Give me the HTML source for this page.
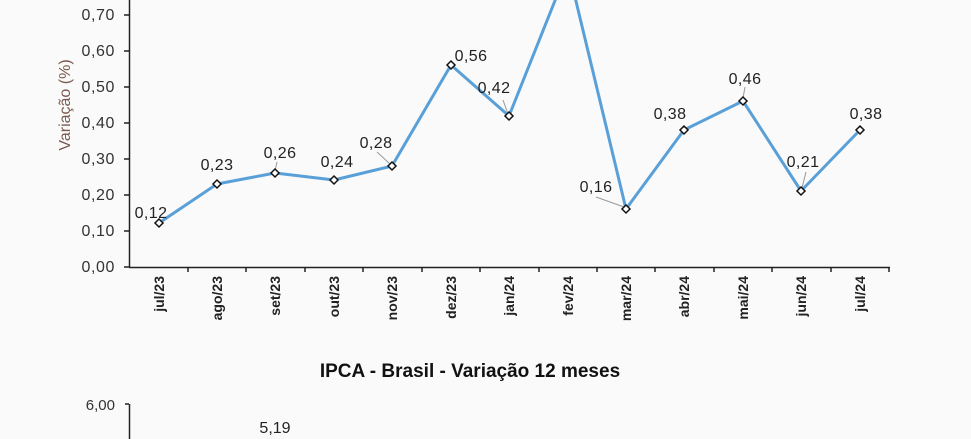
<!DOCTYPE html><html><head><style>body{margin:0;background:#fafafa}svg{display:block}</style></head><body>
<svg width="971" height="439" xmlns="http://www.w3.org/2000/svg" font-family="Liberation Sans, Arial, sans-serif">
<rect width="971" height="439" fill="#fafafa"/>
<g font-size="16" fill="#333" text-anchor="end" letter-spacing="0.6">
<text x="115" y="272">0,00</text><text x="115" y="236">0,10</text><text x="115" y="200">0,20</text><text x="115" y="164">0,30</text><text x="115" y="128">0,40</text><text x="115" y="92">0,50</text><text x="115" y="56">0,60</text><text x="115" y="20">0,70</text>
</g>
<text transform="translate(70,105) rotate(-90)" font-size="16" fill="#7a5a50" text-anchor="middle">Variação (%)</text>
<g stroke="#222" stroke-width="1.5">
<line x1="129.5" y1="0" x2="129.5" y2="267"/><line x1="129" y1="267.5" x2="890" y2="267.5"/>
<line x1="124" y1="267" x2="129" y2="267"/><line x1="124" y1="231" x2="129" y2="231"/><line x1="124" y1="195" x2="129" y2="195"/><line x1="124" y1="159" x2="129" y2="159"/><line x1="124" y1="123" x2="129" y2="123"/><line x1="124" y1="87" x2="129" y2="87"/><line x1="124" y1="51" x2="129" y2="51"/><line x1="124" y1="15" x2="129" y2="15"/>
<path d="M188 267v5M246 267v5M305 267v5M363 267v5M422 267v5M480 267v5M539 267v5M597 267v5M655 267v5M714 267v5M772 267v5M831 267v5M889 267v5" fill="none"/>
</g>
<g font-size="14" font-weight="bold" fill="#222" text-anchor="end">
<text transform="translate(164,276) rotate(-90)">jul/23</text><text transform="translate(222,276) rotate(-90)">ago/23</text><text transform="translate(280,276) rotate(-90)">set/23</text><text transform="translate(339,276) rotate(-90)">out/23</text><text transform="translate(397,276) rotate(-90)">nov/23</text><text transform="translate(456,276) rotate(-90)">dez/23</text><text transform="translate(514,276) rotate(-90)">jan/24</text><text transform="translate(573,276) rotate(-90)">fev/24</text><text transform="translate(631,276) rotate(-90)">mar/24</text><text transform="translate(689,276) rotate(-90)">abr/24</text><text transform="translate(748,276) rotate(-90)">mai/24</text><text transform="translate(806,276) rotate(-90)">jun/24</text><text transform="translate(865,276) rotate(-90)">jul/24</text>
</g>
<g stroke="#999" stroke-width="1">
<line x1="596" y1="197" x2="624" y2="207"/><line x1="377" y1="152" x2="390" y2="164"/><line x1="503" y1="100" x2="508" y2="114"/><line x1="745" y1="87" x2="743" y2="98"/><line x1="806" y1="172" x2="802" y2="188"/><line x1="277" y1="162" x2="275" y2="171"/>
</g>
<polyline points="159,223 217,184 275,173 334,180 392,166 451,65 509,116 568,-32 626,209 684,130 743,101 801,191 860,130" fill="none" stroke="#5aa0d8" stroke-width="3" stroke-linejoin="round"/>
<g fill="#fff" stroke="#111" stroke-width="1.5">
<path d="M159 219l4 4-4 4-4-4z"/><path d="M217 180l4 4-4 4-4-4z"/><path d="M275 169l4 4-4 4-4-4z"/><path d="M334 176l4 4-4 4-4-4z"/><path d="M392 162l4 4-4 4-4-4z"/><path d="M451 61l4 4-4 4-4-4z"/><path d="M509 112l4 4-4 4-4-4z"/><path d="M626 205l4 4-4 4-4-4z"/><path d="M684 126l4 4-4 4-4-4z"/><path d="M743 97l4 4-4 4-4-4z"/><path d="M801 187l4 4-4 4-4-4z"/><path d="M860 126l4 4-4 4-4-4z"/>
</g>
<g font-size="16" fill="#222" text-anchor="middle" letter-spacing="0.4">
<text x="151" y="218">0,12</text><text x="217" y="170">0,23</text><text x="280" y="158">0,26</text><text x="337" y="167">0,24</text><text x="376" y="148">0,28</text><text x="471" y="61">0,56</text><text x="494" y="93">0,42</text><text x="596" y="192">0,16</text><text x="670" y="119">0,38</text><text x="745" y="84">0,46</text><text x="803" y="167">0,21</text><text x="866" y="119">0,38</text>
</g>
<text x="470" y="377" font-size="19" font-weight="bold" fill="#111" text-anchor="middle">IPCA - Brasil - Variação 12 meses</text>
<text x="115" y="410" font-size="15" fill="#333" text-anchor="end">6,00</text>
<g stroke="#222" stroke-width="1.5"><line x1="129.5" y1="404" x2="129.5" y2="439"/><line x1="125" y1="404" x2="129" y2="404"/></g>
<text x="275" y="433" font-size="16" fill="#222" text-anchor="middle">5,19</text>
</svg></body></html>
